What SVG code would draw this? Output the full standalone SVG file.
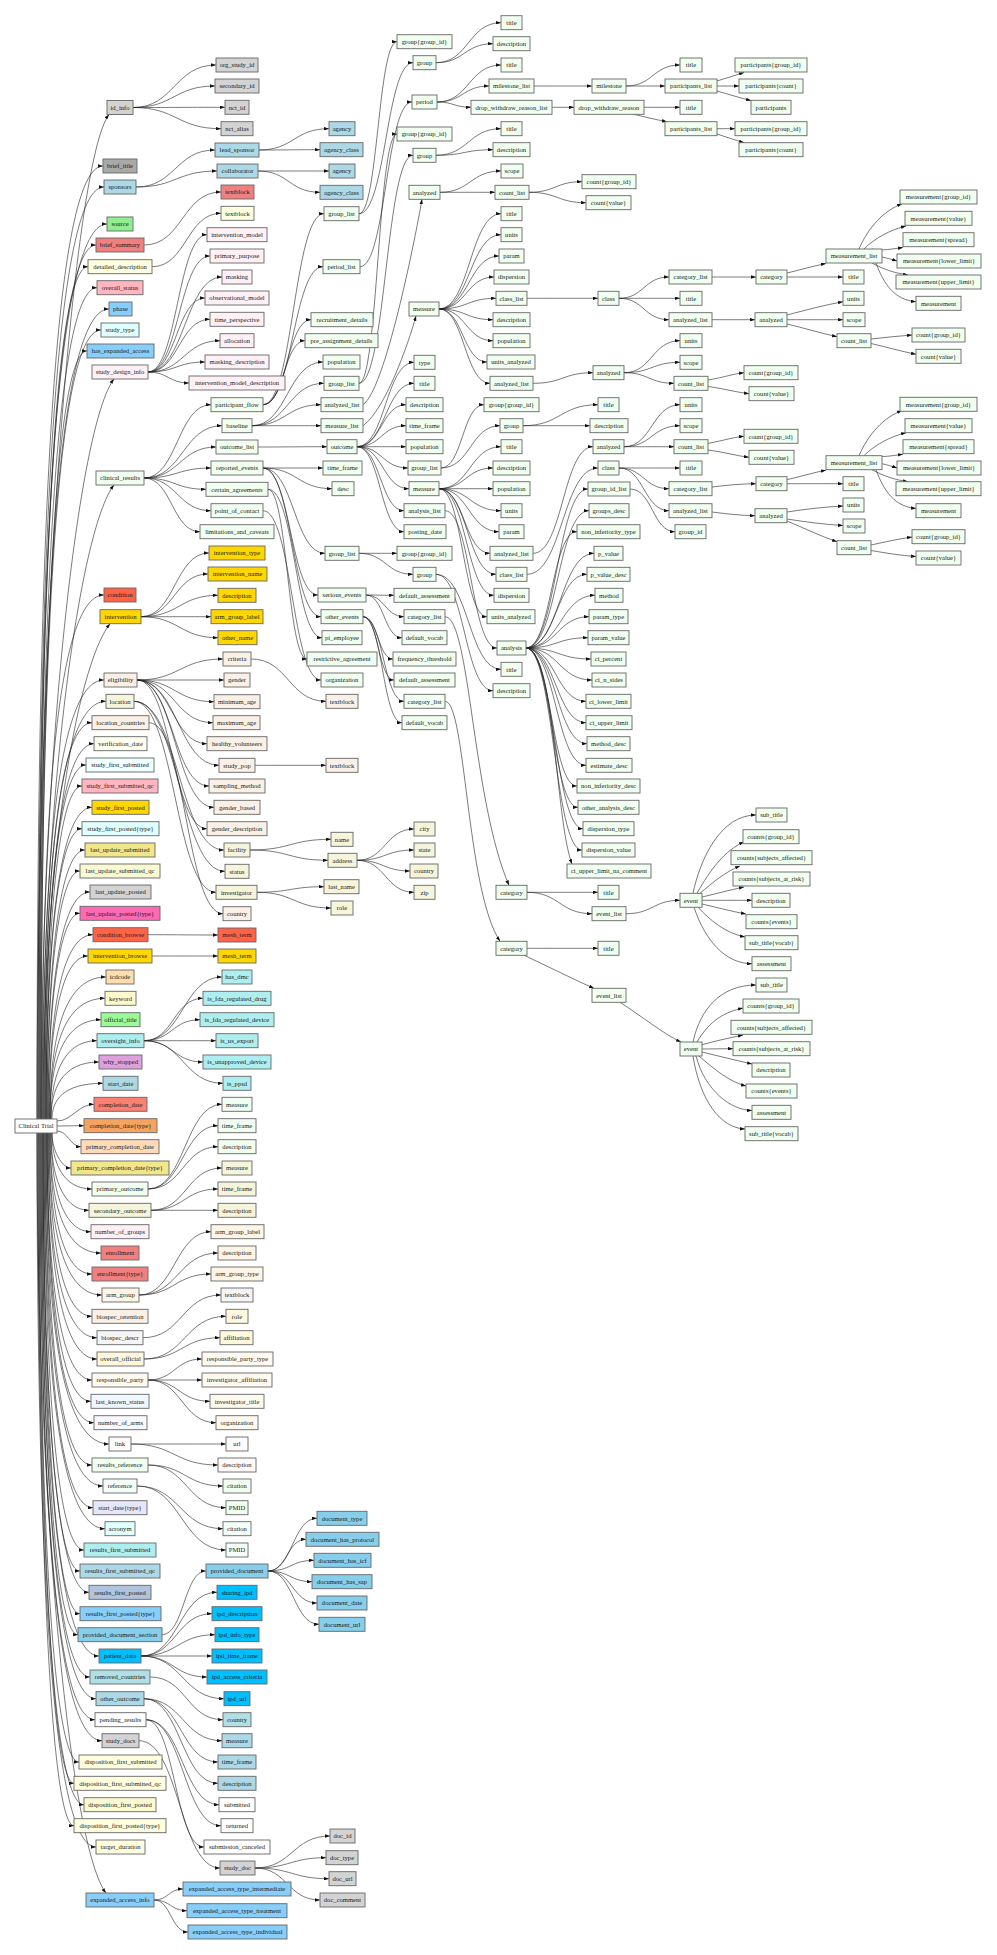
<svg xmlns="http://www.w3.org/2000/svg" width="997" height="1955" viewBox="0 0 997 1955">
<defs>
<marker id="ah" viewBox="0 0 10 7" refX="10" refY="3.5" markerWidth="5" markerHeight="3.5" markerUnits="userSpaceOnUse" orient="auto"><path d="M0,0L10,3.5L0,7z" fill="#111"/></marker>
</defs>
<style>
.n rect{stroke:#666;stroke-width:0.9}
.n text{font-family:"Liberation Serif","Times New Roman",serif;font-size:6.6px;fill:#1a1a1a;text-anchor:middle}
#edges path{fill:none;stroke:#222;stroke-width:0.6;marker-end:url(#ah)}
.lg{fill:#d3d3d3}.dg{fill:#a9a9a9}.lb{fill:#add8e6}.lgr{fill:#90ee90}.lc{fill:#f08080}.ly{fill:#ffffe0}
.lp{fill:#ffb6c1}.lsb{fill:#87cefa}.lcy{fill:#e0ffff}.lbl{fill:#fff0f5}.hd{fill:#f0fff0}.tm{fill:#ff6347}
.gd{fill:#ffd700}.ln{fill:#faf0e6}.bg{fill:#f5f5dc}.iv{fill:#fffff0}.az{fill:#f0ffff}.kh{fill:#f0e68c}
.lgy{fill:#fafad2}.hp{fill:#ff69b4}.nw{fill:#ffdead}.lch{fill:#fffacd}.pg{fill:#98fb98}.pt{fill:#afeeee}
.pl{fill:#dda0dd}.sa{fill:#fa8072}.sb{fill:#f4a460}.pp{fill:#ffdab9}.ol{fill:#fdf5e6}.ws{fill:#f5f5f5}
.cs{fill:#fff8dc}.fw{fill:#fffaf0}.ab{fill:#f0f8ff}.gw{fill:#f8f8ff}.sn{fill:#fffafa}.mc{fill:#f5fffa}
.lv{fill:#e6e6fa}.ls{fill:#b0c4de}.sk{fill:#87ceeb}.ds{fill:#00bfff}.pb{fill:#b0e0e6}.wh{fill:#ffffff}
</style>
<rect width="997" height="1955" fill="#fff"/>
<g id="edges">
<path d="M37 1119C37 617 74 160 109 114.5"/>
<path d="M37 1119C37 642.5 47 166 103 166"/>
<path d="M38 1119C38 653 48 187 104 187"/>
<path d="M38 1119C38 671.5 48 224 107 224"/>
<path d="M39 1119C39 682 49 245 96 245"/>
<path d="M39 1119C39 692.9 49 266.7 88 266.7"/>
<path d="M40 1119C40 703.4 50 287.7 97 287.7"/>
<path d="M40 1119C40 714 50 309 109 309"/>
<path d="M41 1119C41 724.5 51 330 101 330"/>
<path d="M41 1119C41 735 51 351 87 351"/>
<path d="M41 1119C41 749 79 424 114 379"/>
<path d="M42 1119C42 802 79 530 114 485"/>
<path d="M42 1119C42 857 52 595 104 595"/>
<path d="M43 1119C43 871 75 668.7 110 623.7"/>
<path d="M43 1119C43 899.5 53 680 104 680"/>
<path d="M44 1119C44 910.2 54 701.3 106 701.3"/>
<path d="M44 1119C44 920.9 54 722.7 92 722.7"/>
<path d="M45 1119C45 931.4 55 743.7 94 743.7"/>
<path d="M45 1119C45 942 55 765 86 765"/>
<path d="M46 1119C46 952.5 56 786 82 786"/>
<path d="M46 1119C46 963.2 56 807.3 92 807.3"/>
<path d="M46 1119C46 973.9 56 828.7 82 828.7"/>
<path d="M47 1119C47 984.5 57 850 85 850"/>
<path d="M47 1119C47 995 57 871 80 871"/>
<path d="M48 1119C48 1005.5 58 892 90 892"/>
<path d="M48 1119C48 1016.2 58 913.3 80 913.3"/>
<path d="M49 1119C49 1026.9 59 934.7 93 934.7"/>
<path d="M49 1119C49 1037.5 59 956 88 956"/>
<path d="M50 1119C50 1048 60 977 106 977"/>
<path d="M50 1119C50 1058.7 60 998.3 105 998.3"/>
<path d="M50 1119C50 1069.4 60 1019.7 101 1019.7"/>
<path d="M51 1119C51 1079.9 61 1040.7 97 1040.7"/>
<path d="M51 1119C51 1090.5 61 1062 99 1062"/>
<path d="M52 1119C52 1101.2 62 1083.3 103 1083.3"/>
<path d="M57 1121C72 1121 78 1104.3 94 1104.3"/>
<path d="M57 1126C68 1126 72 1125.7 84 1125.7"/>
<path d="M57 1131C68 1131 70 1146.7 81 1146.7"/>
<path d="M52 1133C52 1150.5 62 1168 71 1168"/>
<path d="M52 1133C52 1161 62 1189 92 1189"/>
<path d="M51 1133C51 1171.7 61 1210.3 89 1210.3"/>
<path d="M51 1133C51 1182.4 61 1231.7 91 1231.7"/>
<path d="M50 1133C50 1193 60 1253 101 1253"/>
<path d="M50 1133C50 1203.5 60 1274 92 1274"/>
<path d="M49 1133C49 1214 59 1295 102 1295"/>
<path d="M49 1133C49 1224.7 59 1316.3 92 1316.3"/>
<path d="M48 1133C48 1235.4 58 1337.7 97 1337.7"/>
<path d="M48 1133C48 1246 58 1359 97 1359"/>
<path d="M47 1133C47 1256.5 57 1380 92 1380"/>
<path d="M47 1133C47 1267.2 57 1401.3 91 1401.3"/>
<path d="M47 1133C47 1277.9 57 1422.7 94 1422.7"/>
<path d="M46 1133C46 1288.5 56 1444 109 1444"/>
<path d="M46 1133C46 1299 56 1465 92 1465"/>
<path d="M45 1133C45 1309.5 55 1486 103 1486"/>
<path d="M45 1133C45 1320.4 55 1507.7 93 1507.7"/>
<path d="M44 1133C44 1330.9 54 1528.7 105 1528.7"/>
<path d="M44 1133C44 1341.5 54 1550 84 1550"/>
<path d="M43 1133C43 1352 53 1571 80 1571"/>
<path d="M43 1133C43 1362.7 53 1592.3 89 1592.3"/>
<path d="M43 1133C43 1373.4 53 1613.7 80 1613.7"/>
<path d="M42 1133C42 1383.9 52 1634.7 78 1634.7"/>
<path d="M42 1133C42 1394.5 52 1656 99 1656"/>
<path d="M41 1133C41 1405 51 1677 90 1677"/>
<path d="M41 1133C41 1415.9 51 1698.7 96 1698.7"/>
<path d="M40 1133C40 1426.4 50 1719.7 95 1719.7"/>
<path d="M40 1133C40 1436.9 50 1740.7 102 1740.7"/>
<path d="M39 1133C39 1447.5 49 1762 79 1762"/>
<path d="M39 1133C39 1458.2 49 1783.3 74 1783.3"/>
<path d="M38 1133C38 1468.9 48 1804.7 84 1804.7"/>
<path d="M38 1133C38 1479.4 48 1825.7 74 1825.7"/>
<path d="M37 1133C37 1490 47 1847 96 1847"/>
<path d="M37 1133C37 1513 71 1848 106 1893"/>
<path d="M133 107.5C174.5 107.5 174.5 65 216 65"/>
<path d="M133 107.5C174 107.5 174 86 215 86"/>
<path d="M133 107.5C179 107.5 179 107.3 225 107.3"/>
<path d="M133 107.5C177 107.5 177 128.7 221 128.7"/>
<path d="M136 187C175.5 187 175.5 150 215 150"/>
<path d="M136 187C176.5 187 176.5 171 217 171"/>
<path d="M144 245C182.5 245 182.5 192 221 192"/>
<path d="M152 266.7C186.5 266.7 186.5 213.3 221 213.3"/>
<path d="M148 372C177.5 372 177.5 234.7 207 234.7"/>
<path d="M148 372C179 372 179 256 210 256"/>
<path d="M148 372C185 372 185 277 222 277"/>
<path d="M148 372C176.5 372 176.5 298 205 298"/>
<path d="M148 372C179 372 179 319.3 210 319.3"/>
<path d="M148 372C184 372 184 340.7 220 340.7"/>
<path d="M148 372C176.5 372 176.5 362 205 362"/>
<path d="M148 372C168.5 372 168.5 383 189 383"/>
<path d="M144 478C177.5 478 177.5 404.7 211 404.7"/>
<path d="M144 478C183 478 183 425.7 222 425.7"/>
<path d="M144 478C180 478 180 447 216 447"/>
<path d="M144 478C177.5 478 177.5 468 211 468"/>
<path d="M144 478C175 478 175 489.3 206 489.3"/>
<path d="M144 478C177.5 478 177.5 510.7 211 510.7"/>
<path d="M144 478C172 478 172 531.7 200 531.7"/>
<path d="M141 616.7C175 616.7 175 553 209 553"/>
<path d="M141 616.7C174.5 616.7 174.5 574 208 574"/>
<path d="M141 616.7C179.5 616.7 179.5 595.3 218 595.3"/>
<path d="M141 616.7C176 616.7 176 616.7 211 616.7"/>
<path d="M141 616.7C179.5 616.7 179.5 637.7 218 637.7"/>
<path d="M137 680C180 680 180 659 223 659"/>
<path d="M137 680C180.5 680 180.5 680 224 680"/>
<path d="M137 680C175.5 680 175.5 701.7 214 701.7"/>
<path d="M137 680C175 680 175 722.7 213 722.7"/>
<path d="M137 680C172 680 172 743.7 207 743.7"/>
<path d="M137 680C178 680 178 765.3 219 765.3"/>
<path d="M137 680C173 680 173 786 209 786"/>
<path d="M137 680C175.5 680 175.5 807.3 214 807.3"/>
<path d="M137 680C172 680 172 828.7 207 828.7"/>
<path d="M134 701.3C179 701.3 179 850 224 850"/>
<path d="M134 701.3C179.5 701.3 179.5 871.3 225 871.3"/>
<path d="M134 701.3C175 701.3 175 892.3 216 892.3"/>
<path d="M149 722.7C186 722.7 186 913.7 223 913.7"/>
<path d="M148 934.7C183 934.7 183 935 218 935"/>
<path d="M152 956C185 956 185 956 218 956"/>
<path d="M144 1040.7C183 1040.7 183 977 222 977"/>
<path d="M144 1040.7C173.5 1040.7 173.5 998.3 203 998.3"/>
<path d="M144 1040.7C172 1040.7 172 1019.7 200 1019.7"/>
<path d="M144 1040.7C180 1040.7 180 1040.7 216 1040.7"/>
<path d="M144 1040.7C173.5 1040.7 173.5 1062 203 1062"/>
<path d="M144 1040.7C183.5 1040.7 183.5 1083.3 223 1083.3"/>
<path d="M148 1189C185 1189 185 1104.3 222 1104.3"/>
<path d="M148 1189C183 1189 183 1125.7 218 1125.7"/>
<path d="M148 1189C183 1189 183 1146.7 218 1146.7"/>
<path d="M151 1210.3C186.5 1210.3 186.5 1168 222 1168"/>
<path d="M151 1210.3C184.5 1210.3 184.5 1189 218 1189"/>
<path d="M151 1210.3C184.5 1210.3 184.5 1210.3 218 1210.3"/>
<path d="M139 1295C175 1295 175 1231.7 211 1231.7"/>
<path d="M139 1295C178.5 1295 178.5 1253 218 1253"/>
<path d="M139 1295C175 1295 175 1274 211 1274"/>
<path d="M143 1337.7C182 1337.7 182 1295 221 1295"/>
<path d="M144 1359C185 1359 185 1316.3 226 1316.3"/>
<path d="M144 1359C182 1359 182 1337.7 220 1337.7"/>
<path d="M148 1380C175 1380 175 1359 202 1359"/>
<path d="M148 1380C175 1380 175 1380 202 1380"/>
<path d="M148 1380C179 1380 179 1401.3 210 1401.3"/>
<path d="M148 1380C182 1380 182 1422.7 216 1422.7"/>
<path d="M131 1444C178.5 1444 178.5 1444 226 1444"/>
<path d="M131 1444C174.5 1444 174.5 1465 218 1465"/>
<path d="M148 1465C185.5 1465 185.5 1486 223 1486"/>
<path d="M148 1465C187 1465 187 1507.7 226 1507.7"/>
<path d="M137 1486C180 1486 180 1528.7 223 1528.7"/>
<path d="M137 1486C181.5 1486 181.5 1550 226 1550"/>
<path d="M162 1634.7C184 1634.7 184 1571 206 1571"/>
<path d="M141 1656C179 1656 179 1592.3 217 1592.3"/>
<path d="M141 1656C176.5 1656 176.5 1613.7 212 1613.7"/>
<path d="M141 1656C178 1656 178 1634.7 215 1634.7"/>
<path d="M141 1656C176.5 1656 176.5 1656 212 1656"/>
<path d="M141 1656C174 1656 174 1677 207 1677"/>
<path d="M141 1656C182.5 1656 182.5 1698.7 224 1698.7"/>
<path d="M150 1677C186.5 1677 186.5 1719.7 223 1719.7"/>
<path d="M144 1698.7C183 1698.7 183 1740.7 222 1740.7"/>
<path d="M144 1698.7C181 1698.7 181 1762 218 1762"/>
<path d="M144 1698.7C181 1698.7 181 1783.3 218 1783.3"/>
<path d="M146 1719.7C182.5 1719.7 182.5 1804.7 219 1804.7"/>
<path d="M146 1719.7C183.5 1719.7 183.5 1825.7 221 1825.7"/>
<path d="M146 1719.7C175 1719.7 175 1847 204 1847"/>
<path d="M139 1740.7C179.5 1740.7 179.5 1868 220 1868"/>
<path d="M154 1900C168.5 1900 168.5 1889 183 1889"/>
<path d="M154 1900C170.5 1900 170.5 1910.7 187 1910.7"/>
<path d="M154 1900C171 1900 171 1932 188 1932"/>
<path d="M259 150C294 150 294 128.7 329 128.7"/>
<path d="M259 150C289.5 150 289.5 149.7 320 149.7"/>
<path d="M258 171C293.5 171 293.5 171 329 171"/>
<path d="M258 171C289 171 289 192.3 320 192.3"/>
<path d="M263 404.7C293.5 404.7 293.5 213.7 324 213.7"/>
<path d="M263 404.7C293 404.7 293 266.7 323 266.7"/>
<path d="M263 404.7C287 404.7 287 319.7 311 319.7"/>
<path d="M263 404.7C284 404.7 284 340.7 305 340.7"/>
<path d="M252 425.7C287.5 425.7 287.5 362 323 362"/>
<path d="M252 425.7C288 425.7 288 383.3 324 383.3"/>
<path d="M252 425.7C286.5 425.7 286.5 404.7 321 404.7"/>
<path d="M252 425.7C286.5 425.7 286.5 425.7 321 425.7"/>
<path d="M258 447C292.5 447 292.5 446.7 327 446.7"/>
<path d="M263 468C293 468 293 468 323 468"/>
<path d="M263 468C297.5 468 297.5 488.7 332 488.7"/>
<path d="M263 468C294 468 294 553.3 325 553.3"/>
<path d="M263 468C290.5 468 290.5 595 318 595"/>
<path d="M263 468C292 468 292 616.7 321 616.7"/>
<path d="M268 489.3C295 489.3 295 637.7 322 637.7"/>
<path d="M268 489.3C287.5 489.3 287.5 659 307 659"/>
<path d="M263 510.7C292 510.7 292 680 321 680"/>
<path d="M251 659C288.5 659 288.5 701.3 326 701.3"/>
<path d="M255 765.3C290.5 765.3 290.5 765.3 326 765.3"/>
<path d="M250 850C290.5 850 290.5 839.3 331 839.3"/>
<path d="M250 850C289 850 289 860.3 328 860.3"/>
<path d="M257 892.3C290.5 892.3 290.5 886.7 324 886.7"/>
<path d="M257 892.3C294 892.3 294 908 331 908"/>
<path d="M268 1571C292.5 1571 292.5 1518.3 317 1518.3"/>
<path d="M268 1571C287 1571 287 1539.3 306 1539.3"/>
<path d="M268 1571C291 1571 291 1560.3 314 1560.3"/>
<path d="M268 1571C290 1571 290 1581.7 312 1581.7"/>
<path d="M268 1571C292.5 1571 292.5 1603 317 1603"/>
<path d="M268 1571C293.5 1571 293.5 1624.3 319 1624.3"/>
<path d="M255 1868C292.5 1868 292.5 1836 330 1836"/>
<path d="M255 1868C290.5 1868 290.5 1857.7 326 1857.7"/>
<path d="M255 1868C292 1868 292 1878.7 329 1878.7"/>
<path d="M255 1868C287.5 1868 287.5 1900 320 1900"/>
<path d="M359 213.7C378 213.7 378 41.7 397 41.7"/>
<path d="M359 213.7C386 213.7 386 62.7 413 62.7"/>
<path d="M360 266.7C386 266.7 386 102 412 102"/>
<path d="M359 383.3C378 383.3 378 134 397 134"/>
<path d="M359 383.3C386 383.3 386 155.3 413 155.3"/>
<path d="M363 404.7C385 390 415 240 422 199.3"/>
<path d="M363 425.7C385 410 408 345 416 316"/>
<path d="M357 446.7C385.5 446.7 385.5 362.3 414 362.3"/>
<path d="M357 446.7C385.5 446.7 385.5 383.3 414 383.3"/>
<path d="M357 446.7C381.5 446.7 381.5 404.7 406 404.7"/>
<path d="M357 446.7C381.5 446.7 381.5 425.7 406 425.7"/>
<path d="M357 446.7C381.5 446.7 381.5 446.7 406 446.7"/>
<path d="M357 446.7C382.5 446.7 382.5 468 408 468"/>
<path d="M357 446.7C383 446.7 383 488.7 409 488.7"/>
<path d="M357 446.7C380.5 446.7 380.5 510.7 404 510.7"/>
<path d="M357 446.7C380.5 446.7 380.5 531.7 404 531.7"/>
<path d="M359 553.3C378 553.3 378 553.3 397 553.3"/>
<path d="M359 553.3C386 553.3 386 574.3 413 574.3"/>
<path d="M366 595C380 595 380 595.3 394 595.3"/>
<path d="M366 595C385 595 385 616.7 404 616.7"/>
<path d="M366 595C384 595 384 637.7 402 637.7"/>
<path d="M363 616.7C378 616.7 378 659 393 659"/>
<path d="M363 616.7C378.5 616.7 378.5 680 394 680"/>
<path d="M363 616.7C383.5 616.7 383.5 701.3 404 701.3"/>
<path d="M363 616.7C382.5 616.7 382.5 722.7 402 722.7"/>
<path d="M357 860.3C385.5 860.3 385.5 829 414 829"/>
<path d="M357 860.3C385.5 860.3 385.5 850 414 850"/>
<path d="M357 860.3C383.5 860.3 383.5 871 410 871"/>
<path d="M357 860.3C385.5 860.3 385.5 892.3 414 892.3"/>
<path d="M436 62.7C468.5 62.7 468.5 22.7 501 22.7"/>
<path d="M436 62.7C464.5 62.7 464.5 43.7 493 43.7"/>
<path d="M437 102C469 102 469 65 501 65"/>
<path d="M437 102C463 102 463 86 489 86"/>
<path d="M437 102C454 102 454 107.3 471 107.3"/>
<path d="M436 155.3C468.5 155.3 468.5 128.7 501 128.7"/>
<path d="M436 155.3C464.5 155.3 464.5 149.7 493 149.7"/>
<path d="M440 192.3C470.5 192.3 470.5 171 501 171"/>
<path d="M440 192.3C467.5 192.3 467.5 192.3 495 192.3"/>
<path d="M439 309C470 309 470 213.7 501 213.7"/>
<path d="M439 309C470 309 470 234.7 501 234.7"/>
<path d="M439 309C469 309 469 256 499 256"/>
<path d="M439 309C466.5 309 466.5 277 494 277"/>
<path d="M439 309C467.5 309 467.5 298.3 496 298.3"/>
<path d="M439 309C466 309 466 319.7 493 319.7"/>
<path d="M439 309C466 309 466 340.7 493 340.7"/>
<path d="M439 309C463 309 463 362 487 362"/>
<path d="M439 309C464.5 309 464.5 383.3 490 383.3"/>
<path d="M441 468C462.5 468 462.5 404.7 484 404.7"/>
<path d="M441 468C470.5 468 470.5 425.7 500 425.7"/>
<path d="M439 488.7C470 488.7 470 446.7 501 446.7"/>
<path d="M439 488.7C466 488.7 466 468 493 468"/>
<path d="M439 488.7C466 488.7 466 488.7 493 488.7"/>
<path d="M439 488.7C470 488.7 470 510.7 501 510.7"/>
<path d="M439 488.7C469 488.7 469 531.7 499 531.7"/>
<path d="M439 488.7C464.5 488.7 464.5 553.3 490 553.3"/>
<path d="M439 488.7C467.5 488.7 467.5 574.3 496 574.3"/>
<path d="M439 488.7C466.5 488.7 466.5 595.3 494 595.3"/>
<path d="M439 488.7C463 488.7 463 616.7 487 616.7"/>
<path d="M445 510.7C471 510.7 471 648 497 648"/>
<path d="M436 574.3C468.5 574.3 468.5 669.3 501 669.3"/>
<path d="M436 574.3C464.5 574.3 464.5 690.7 493 690.7"/>
<path d="M445 616.7C470 616.7 472 800 509 885.3"/>
<path d="M445 701.3C466 701.3 466 890 500 941.3"/>
<path d="M534 86C563 86 563 86 592 86"/>
<path d="M552 107.3C563 107.3 563 107.3 574 107.3"/>
<path d="M529 192.3C555.5 192.3 555.5 181.7 582 181.7"/>
<path d="M529 192.3C557.5 192.3 557.5 202.7 586 202.7"/>
<path d="M527 298.3C562.5 298.3 562.5 298.3 598 298.3"/>
<path d="M533 383.3C563 383.3 563 372.7 593 372.7"/>
<path d="M523 425.7C560.5 425.7 560.5 404.7 598 404.7"/>
<path d="M523 425.7C556.5 425.7 556.5 425.7 590 425.7"/>
<path d="M533 553.3C563 553.3 563 446.7 593 446.7"/>
<path d="M527 574.3C562.5 574.3 562.5 468 598 468"/>
<path d="M526 648C557 648 557 489 588 489"/>
<path d="M526 648C557.5 648 557.5 510.7 589 510.7"/>
<path d="M526 648C551.5 648 551.5 531.7 577 531.7"/>
<path d="M526 648C560 648 560 553.3 594 553.3"/>
<path d="M526 648C556.5 648 556.5 574.3 587 574.3"/>
<path d="M526 648C560.5 648 560.5 595.3 595 595.3"/>
<path d="M526 648C557.5 648 557.5 616.7 589 616.7"/>
<path d="M526 648C557 648 557 637.7 588 637.7"/>
<path d="M526 648C558.5 648 558.5 659 591 659"/>
<path d="M526 648C559 648 559 680 592 680"/>
<path d="M526 648C556 648 556 701.3 586 701.3"/>
<path d="M526 648C556 648 556 722.7 586 722.7"/>
<path d="M526 648C556.5 648 556.5 743.7 587 743.7"/>
<path d="M526 648C556 648 556 765.3 586 765.3"/>
<path d="M526 648C551.5 648 551.5 786 577 786"/>
<path d="M526 648C552 648 552 807.3 578 807.3"/>
<path d="M526 648C554.5 648 554.5 828.7 583 828.7"/>
<path d="M526 648C554 648 554 850 582 850"/>
<path d="M526 648C555 648 555 820 572 864"/>
<path d="M527 892.3C562.5 892.3 562.5 892.3 598 892.3"/>
<path d="M527 892.3C559.5 892.3 559.5 913.7 592 913.7"/>
<path d="M527 948.3C562.5 948.3 562.5 948.3 598 948.3"/>
<path d="M524 955.3C545 965 575 980 594 988.3"/>
<path d="M626 86C653 86 653 65 680 65"/>
<path d="M626 86C645.5 86 645.5 86 665 86"/>
<path d="M644 107.3C662 107.3 662 107.3 680 107.3"/>
<path d="M634 114.3C645 117 655 119.5 667 121.7"/>
<path d="M619 298.3C644 298.3 644 277 669 277"/>
<path d="M619 298.3C649.5 298.3 649.5 298.3 680 298.3"/>
<path d="M619 298.3C644 298.3 644 319.7 669 319.7"/>
<path d="M624 372.7C652 372.7 652 340.7 680 340.7"/>
<path d="M624 372.7C652 372.7 652 362.3 680 362.3"/>
<path d="M624 372.7C649 372.7 649 383.3 674 383.3"/>
<path d="M624 446.7C652 446.7 652 404.7 680 404.7"/>
<path d="M624 446.7C652 446.7 652 425.7 680 425.7"/>
<path d="M624 446.7C649 446.7 649 446.7 674 446.7"/>
<path d="M619 468C649.5 468 649.5 468 680 468"/>
<path d="M619 468C644 468 644 488.7 669 488.7"/>
<path d="M619 468C644 468 644 510.7 669 510.7"/>
<path d="M630 489C652.5 489 652.5 531.7 675 531.7"/>
<path d="M626 913.7C653 913.7 653 900.3 680 900.3"/>
<path d="M620 1002.3C640 1015 665 1035 681 1042"/>
<path d="M717 81C726 78 735 75.5 744 72.5"/>
<path d="M717 86C726 86 730 86 739 86"/>
<path d="M717 91C728 94 740 98 751 100.5"/>
<path d="M717 128.7C726 128.7 726 128.7 735 128.7"/>
<path d="M717 134C726 137 735 140 744 142.7"/>
<path d="M712 277C734 277 734 277 756 277"/>
<path d="M712 319.7C733.5 319.7 733.5 319.7 755 319.7"/>
<path d="M708 380C726 377 732 374 744 372.7"/>
<path d="M708 386.5C726 389 735 392 749 393.7"/>
<path d="M708 443.4C726 440 732 437.5 744 436.3"/>
<path d="M708 450C726 452.5 735 455.5 749 457.3"/>
<path d="M712 487C728 485 740 484 756 483.7"/>
<path d="M712 512C728 514 740 515.5 755 515.7"/>
<path d="M693 893.3C700 860 720 815 756 815"/>
<path d="M697 893.3C710 870 725 850 744 842"/>
<path d="M700 893.3C712 883 725 872 740 866"/>
<path d="M702 897C715 894 730 890 744 887"/>
<path d="M702 900.3C720 900.3 735 900.3 752 900.3"/>
<path d="M702 904C715 907 730 911 746 914"/>
<path d="M698 907.3C710 920 725 933 745 937"/>
<path d="M694 907.3C705 940 725 963.7 752 963.7"/>
<path d="M693 1042C700 1010 720 985 756 985"/>
<path d="M697 1042C710 1020 725 1012 743 1008"/>
<path d="M701 1045C715 1041 729 1038 743 1035"/>
<path d="M702 1049C712 1049 722 1048.7 733 1048.7"/>
<path d="M702 1052C718 1056 735 1060 752 1064"/>
<path d="M699 1056C715 1070 730 1082 746 1086"/>
<path d="M696 1056C705 1090 730 1110 752 1110.5"/>
<path d="M693 1056C700 1100 720 1128 745 1129"/>
<path d="M787 273C800 270 813 266 826 263.5"/>
<path d="M787 277C815 277 815 277 843 277"/>
<path d="M787 315C806 310 825 305 843 301.7"/>
<path d="M787 319.7C815 319.7 815 319.7 843 319.7"/>
<path d="M787 324C804 328 820 333 837 336.7"/>
<path d="M787 479.7C800 476.7 813 472.7 826 470.2"/>
<path d="M787 483.7C815 483.7 815 483.7 843 483.7"/>
<path d="M787 512C806 509 825 507 843 506"/>
<path d="M787 519C806 522 825 524.5 843 525.5"/>
<path d="M787 521C804 528 820 536 837 541.7"/>
<path d="M859 249C868 228 884 210 902 204"/>
<path d="M864 249C875 238 890 230 906 226"/>
<path d="M872 249C882 251 892 249 903 247.5"/>
<path d="M882 257C887 258 892 259.5 897 261"/>
<path d="M872 263C885 270 895 273 908 275"/>
<path d="M876 263C884 285 895 300 916 301.7"/>
<path d="M871 339C885 337.5 898 336 912 335"/>
<path d="M871 343.5C886 347 900 351 916 354.3"/>
<path d="M859 455.7C868 434.7 884 416.7 902 410.7"/>
<path d="M864 455.7C875 444.7 890 436.7 906 432.7"/>
<path d="M872 455.7C882 457.7 892 455.7 903 454.2"/>
<path d="M882 463.7C887 464.7 892 466.2 897 468"/>
<path d="M872 469.7C885 476.7 895 479.7 908 481.7"/>
<path d="M876 469.7C884 491.7 895 506.7 916 508.4"/>
<path d="M871 545C885 542 898 539 912 537"/>
<path d="M871 550.5C886 553 900 555.5 916 556.5"/>
</g>
<g id="nodes">
<g id="clinical_trial" class="n"><rect class="wh" x="15" y="1119" width="42" height="14"/><text x="36" y="1128.3">Clinical Trial</text></g>
<g id="id_info" class="n"><rect class="lg" x="107" y="100.5" width="26" height="14"/><text x="120" y="109.8">id_info</text></g>
<g id="brief_title" class="n"><rect class="dg" x="103" y="159" width="34" height="14"/><text x="120" y="168.3">brief_title</text></g>
<g id="sponsors" class="n"><rect class="lb" x="104" y="180" width="32" height="14"/><text x="120" y="189.3">sponsors</text></g>
<g id="source" class="n"><rect class="lgr" x="107" y="217" width="26" height="14"/><text x="120" y="226.3">source</text></g>
<g id="brief_summary" class="n"><rect class="lc" x="96" y="238" width="48" height="14"/><text x="120" y="247.3">brief_summary</text></g>
<g id="detailed_description" class="n"><rect class="ly" x="88" y="259.7" width="64" height="14"/><text x="120" y="269">detailed_description</text></g>
<g id="overall_status" class="n"><rect class="lp" x="97" y="280.7" width="46" height="14"/><text x="120" y="290">overall_status</text></g>
<g id="phase" class="n"><rect class="lsb" x="109" y="302" width="23" height="14"/><text x="120.5" y="311.3">phase</text></g>
<g id="study_type" class="n"><rect class="lcy" x="101" y="323" width="38" height="14"/><text x="120" y="332.3">study_type</text></g>
<g id="has_expanded_access" class="n"><rect class="lsb" x="87" y="344" width="67" height="14"/><text x="120.5" y="353.3">has_expanded_access</text></g>
<g id="study_design_info" class="n"><rect class="lbl" x="92" y="365" width="56" height="14"/><text x="120" y="374.3">study_design_info</text></g>
<g id="clinical_results" class="n"><rect class="hd" x="96" y="471" width="48" height="14"/><text x="120" y="480.3">clinical_results</text></g>
<g id="condition" class="n"><rect class="tm" x="104" y="588" width="32" height="14"/><text x="120" y="597.3">condition</text></g>
<g id="intervention" class="n"><rect class="gd" x="100" y="609.7" width="41" height="14"/><text x="120.5" y="619">intervention</text></g>
<g id="eligibility" class="n"><rect class="ln" x="104" y="673" width="33" height="14"/><text x="120.5" y="682.3">eligibility</text></g>
<g id="location" class="n"><rect class="bg" x="106" y="694.3" width="28" height="14"/><text x="120" y="703.6">location</text></g>
<g id="location_countries" class="n"><rect class="ln" x="92" y="715.7" width="57" height="14"/><text x="120.5" y="725">location_countries</text></g>
<g id="verification_date" class="n"><rect class="iv" x="94" y="736.7" width="53" height="14"/><text x="120.5" y="746">verification_date</text></g>
<g id="study_first_submitted" class="n"><rect class="az" x="86" y="758" width="68" height="14"/><text x="120" y="767.3">study_first_submitted</text></g>
<g id="study_first_submitted_qc" class="n"><rect class="lp" x="82" y="779" width="76" height="14"/><text x="120" y="788.3">study_first_submitted_qc</text></g>
<g id="study_first_posted" class="n"><rect class="gd" x="92" y="800.3" width="57" height="14"/><text x="120.5" y="809.6">study_first_posted</text></g>
<g id="study_first_posted_type" class="n"><rect class="lcy" x="82" y="821.7" width="77" height="14"/><text x="120.5" y="831">study_first_posted{type}</text></g>
<g id="last_update_submitted" class="n"><rect class="kh" x="85" y="843" width="70" height="14"/><text x="120" y="852.3">last_update_submitted</text></g>
<g id="last_update_submitted_qc" class="n"><rect class="lgy" x="80" y="864" width="80" height="14"/><text x="120" y="873.3">last_update_submitted_qc</text></g>
<g id="last_update_posted" class="n"><rect class="lg" x="90" y="885" width="61" height="14"/><text x="120.5" y="894.3">last_update_posted</text></g>
<g id="last_update_posted_type" class="n"><rect class="hp" x="80" y="906.3" width="80" height="14"/><text x="120" y="915.6">last_update_posted{type}</text></g>
<g id="condition_browse" class="n"><rect class="tm" x="93" y="927.7" width="55" height="14"/><text x="120.5" y="937">condition_browse</text></g>
<g id="intervention_browse" class="n"><rect class="gd" x="88" y="949" width="64" height="14"/><text x="120" y="958.3">intervention_browse</text></g>
<g id="icdcode" class="n"><rect class="nw" x="106" y="970" width="28" height="14"/><text x="120" y="979.3">icdcode</text></g>
<g id="keyword" class="n"><rect class="lch" x="105" y="991.3" width="31" height="14"/><text x="120.5" y="1000.6">keyword</text></g>
<g id="official_title" class="n"><rect class="pg" x="101" y="1012.7" width="39" height="14"/><text x="120.5" y="1022">official_title</text></g>
<g id="oversight_info" class="n"><rect class="pt" x="97" y="1033.7" width="47" height="14"/><text x="120.5" y="1043">oversight_info</text></g>
<g id="why_stopped" class="n"><rect class="pl" x="99" y="1055" width="43" height="14"/><text x="120.5" y="1064.3">why_stopped</text></g>
<g id="start_date" class="n"><rect class="lb" x="103" y="1076.3" width="35" height="14"/><text x="120.5" y="1085.6">start_date</text></g>
<g id="completion_date" class="n"><rect class="sa" x="94" y="1097.3" width="53" height="14"/><text x="120.5" y="1106.6">completion_date</text></g>
<g id="completion_date_type" class="n"><rect class="sb" x="84" y="1118.7" width="73" height="14"/><text x="120.5" y="1128">completion_date{type}</text></g>
<g id="primary_completion_date" class="n"><rect class="pp" x="81" y="1139.7" width="78" height="14"/><text x="120" y="1149">primary_completion_date</text></g>
<g id="primary_completion_date_type" class="n"><rect class="kh" x="71" y="1161" width="98" height="14"/><text x="120" y="1170.3">primary_completion_date{type}</text></g>
<g id="primary_outcome" class="n"><rect class="hd" x="92" y="1182" width="56" height="14"/><text x="120" y="1191.3">primary_outcome</text></g>
<g id="secondary_outcome" class="n"><rect class="bg" x="89" y="1203.3" width="62" height="14"/><text x="120" y="1212.6">secondary_outcome</text></g>
<g id="number_of_groups" class="n"><rect class="lbl" x="91" y="1224.7" width="58" height="14"/><text x="120" y="1234">number_of_groups</text></g>
<g id="enrollment" class="n"><rect class="lc" x="101" y="1246" width="38" height="14"/><text x="120" y="1255.3">enrollment</text></g>
<g id="enrollment_type" class="n"><rect class="lc" x="92" y="1267" width="56" height="14"/><text x="120" y="1276.3">enrollment{type}</text></g>
<g id="arm_group" class="n"><rect class="ol" x="102" y="1288" width="37" height="14"/><text x="120.5" y="1297.3">arm_group</text></g>
<g id="biospec_retention" class="n"><rect class="ln" x="92" y="1309.3" width="56" height="14"/><text x="120" y="1318.6">biospec_retention</text></g>
<g id="biospec_descr" class="n"><rect class="ws" x="97" y="1330.7" width="46" height="14"/><text x="120" y="1340">biospec_descr</text></g>
<g id="overall_official" class="n"><rect class="cs" x="97" y="1352" width="47" height="14"/><text x="120.5" y="1361.3">overall_official</text></g>
<g id="responsible_party" class="n"><rect class="fw" x="92" y="1373" width="56" height="14"/><text x="120" y="1382.3">responsible_party</text></g>
<g id="last_known_status" class="n"><rect class="ab" x="91" y="1394.3" width="58" height="14"/><text x="120" y="1403.6">last_known_status</text></g>
<g id="number_of_arms" class="n"><rect class="gw" x="94" y="1415.7" width="53" height="14"/><text x="120.5" y="1425">number_of_arms</text></g>
<g id="link" class="n"><rect class="sn" x="109" y="1437" width="22" height="14"/><text x="120" y="1446.3">link</text></g>
<g id="results_reference" class="n"><rect class="hd" x="92" y="1458" width="56" height="14"/><text x="120" y="1467.3">results_reference</text></g>
<g id="reference" class="n"><rect class="mc" x="103" y="1479" width="34" height="14"/><text x="120" y="1488.3">reference</text></g>
<g id="start_date_type" class="n"><rect class="lv" x="93" y="1500.7" width="54" height="14"/><text x="120" y="1510">start_date{type}</text></g>
<g id="acronym" class="n"><rect class="lcy" x="105" y="1521.7" width="30" height="14"/><text x="120" y="1531">acronym</text></g>
<g id="results_first_submitted" class="n"><rect class="pt" x="84" y="1543" width="72" height="14"/><text x="120" y="1552.3">results_first_submitted</text></g>
<g id="results_first_submitted_qc" class="n"><rect class="lb" x="80" y="1564" width="80" height="14"/><text x="120" y="1573.3">results_first_submitted_qc</text></g>
<g id="results_first_posted" class="n"><rect class="ls" x="89" y="1585.3" width="62" height="14"/><text x="120" y="1594.6">results_first_posted</text></g>
<g id="results_first_posted_type" class="n"><rect class="lsb" x="80" y="1606.7" width="81" height="14"/><text x="120.5" y="1616">results_first_posted{type}</text></g>
<g id="provided_document_section" class="n"><rect class="sk" x="78" y="1627.7" width="84" height="14"/><text x="120" y="1637">provided_document_section</text></g>
<g id="patient_data" class="n"><rect class="ds" x="99" y="1649" width="42" height="14"/><text x="120" y="1658.3">patient_data</text></g>
<g id="removed_countries" class="n"><rect class="pb" x="90" y="1670" width="60" height="14"/><text x="120" y="1679.3">removed_countries</text></g>
<g id="other_outcome" class="n"><rect class="lb" x="96" y="1691.7" width="48" height="14"/><text x="120" y="1701">other_outcome</text></g>
<g id="pending_results" class="n"><rect class="wh" x="95" y="1712.7" width="51" height="14"/><text x="120.5" y="1722">pending_results</text></g>
<g id="study_docs" class="n"><rect class="lg" x="102" y="1733.7" width="37" height="14"/><text x="120.5" y="1743">study_docs</text></g>
<g id="disposition_first_submitted" class="n"><rect class="ly" x="79" y="1755" width="83" height="14"/><text x="120.5" y="1764.3">disposition_first_submitted</text></g>
<g id="disposition_first_submitted_qc" class="n"><rect class="ly" x="74" y="1776.3" width="92" height="14"/><text x="120" y="1785.6">disposition_first_submitted_qc</text></g>
<g id="disposition_first_posted" class="n"><rect class="lgy" x="84" y="1797.7" width="72" height="14"/><text x="120" y="1807">disposition_first_posted</text></g>
<g id="disposition_first_posted_type" class="n"><rect class="ly" x="74" y="1818.7" width="92" height="14"/><text x="120" y="1828">disposition_first_posted{type}</text></g>
<g id="target_duration" class="n"><rect class="ly" x="96" y="1840" width="49" height="14"/><text x="120.5" y="1849.3">target_duration</text></g>
<g id="expanded_access_info" class="n"><rect class="lsb" x="86" y="1893" width="68" height="14"/><text x="120" y="1902.3">expanded_access_info</text></g>

<g id="org_study_id" class="n"><rect class="lg" x="216" y="58" width="42" height="14"/><text x="237" y="67.3">org_study_id</text></g>
<g id="secondary_id" class="n"><rect class="lg" x="215" y="79" width="44" height="14"/><text x="237" y="88.3">secondary_id</text></g>
<g id="nct_id" class="n"><rect class="lg" x="225" y="100.3" width="24" height="14"/><text x="237" y="109.6">nct_id</text></g>
<g id="nct_alias" class="n"><rect class="lg" x="221" y="121.7" width="32" height="14"/><text x="237" y="131">nct_alias</text></g>
<g id="lead_sponsor" class="n"><rect class="lb" x="215" y="143" width="44" height="14"/><text x="237" y="152.3">lead_sponsor</text></g>
<g id="collaborator" class="n"><rect class="lb" x="217" y="164" width="41" height="14"/><text x="237.5" y="173.3">collaborator</text></g>
<g id="textblock_1" class="n"><rect class="lc" x="221" y="185" width="33" height="14"/><text x="237.5" y="194.3">textblock</text></g>
<g id="textblock_2" class="n"><rect class="ly" x="221" y="206.3" width="33" height="14"/><text x="237.5" y="215.6">textblock</text></g>
<g id="intervention_model" class="n"><rect class="lbl" x="207" y="227.7" width="60" height="14"/><text x="237" y="237">intervention_model</text></g>
<g id="primary_purpose" class="n"><rect class="lbl" x="210" y="249" width="54" height="14"/><text x="237" y="258.3">primary_purpose</text></g>
<g id="masking" class="n"><rect class="lbl" x="222" y="270" width="30" height="14"/><text x="237" y="279.3">masking</text></g>
<g id="observational_model" class="n"><rect class="lbl" x="205" y="291" width="64" height="14"/><text x="237" y="300.3">observational_model</text></g>
<g id="time_perspective" class="n"><rect class="lbl" x="210" y="312.3" width="54" height="14"/><text x="237" y="321.6">time_perspective</text></g>
<g id="allocation" class="n"><rect class="lbl" x="220" y="333.7" width="34" height="14"/><text x="237" y="343">allocation</text></g>
<g id="masking_description" class="n"><rect class="lbl" x="205" y="355" width="64" height="14"/><text x="237" y="364.3">masking_description</text></g>
<g id="intervention_model_description" class="n"><rect class="lbl" x="189" y="376" width="96" height="14"/><text x="237" y="385.3">intervention_model_description</text></g>
<g id="participant_flow" class="n"><rect class="hd" x="211" y="397.7" width="52" height="14"/><text x="237" y="407">participant_flow</text></g>
<g id="baseline" class="n"><rect class="hd" x="222" y="418.7" width="30" height="14"/><text x="237" y="428">baseline</text></g>
<g id="outcome_list" class="n"><rect class="hd" x="216" y="440" width="42" height="14"/><text x="237" y="449.3">outcome_list</text></g>
<g id="reported_events" class="n"><rect class="hd" x="211" y="461" width="52" height="14"/><text x="237" y="470.3">reported_events</text></g>
<g id="certain_agreements" class="n"><rect class="hd" x="206" y="482.3" width="62" height="14"/><text x="237" y="491.6">certain_agreements</text></g>
<g id="point_of_contact" class="n"><rect class="hd" x="211" y="503.7" width="52" height="14"/><text x="237" y="513">point_of_contact</text></g>
<g id="limitations_and_caveats" class="n"><rect class="hd" x="200" y="524.7" width="74" height="14"/><text x="237" y="534">limitations_and_caveats</text></g>
<g id="intervention_type" class="n"><rect class="gd" x="209" y="546" width="56" height="14"/><text x="237" y="555.3">intervention_type</text></g>
<g id="intervention_name" class="n"><rect class="gd" x="208" y="567" width="59" height="14"/><text x="237.5" y="576.3">intervention_name</text></g>
<g id="description_1" class="n"><rect class="gd" x="218" y="588.3" width="38" height="14"/><text x="237" y="597.6">description</text></g>
<g id="arm_group_label_1" class="n"><rect class="gd" x="211" y="609.7" width="52" height="14"/><text x="237" y="619">arm_group_label</text></g>
<g id="other_name" class="n"><rect class="gd" x="218" y="630.7" width="39" height="14"/><text x="237.5" y="640">other_name</text></g>
<g id="criteria" class="n"><rect class="ln" x="223" y="652" width="28" height="14"/><text x="237" y="661.3">criteria</text></g>
<g id="gender" class="n"><rect class="ln" x="224" y="673" width="26" height="14"/><text x="237" y="682.3">gender</text></g>
<g id="minimum_age" class="n"><rect class="ln" x="214" y="694.7" width="46" height="14"/><text x="237" y="704">minimum_age</text></g>
<g id="maximum_age" class="n"><rect class="ln" x="213" y="715.7" width="47" height="14"/><text x="236.5" y="725">maximum_age</text></g>
<g id="healthy_volunteers" class="n"><rect class="ln" x="207" y="736.7" width="60" height="14"/><text x="237" y="746">healthy_volunteers</text></g>
<g id="study_pop" class="n"><rect class="ln" x="219" y="758.3" width="36" height="14"/><text x="237" y="767.6">study_pop</text></g>
<g id="sampling_method" class="n"><rect class="ln" x="209" y="779" width="56" height="14"/><text x="237" y="788.3">sampling_method</text></g>
<g id="gender_based" class="n"><rect class="ln" x="214" y="800.3" width="46" height="14"/><text x="237" y="809.6">gender_based</text></g>
<g id="gender_description" class="n"><rect class="ln" x="207" y="821.7" width="60" height="14"/><text x="237" y="831">gender_description</text></g>
<g id="facility" class="n"><rect class="bg" x="224" y="843" width="26" height="14"/><text x="237" y="852.3">facility</text></g>
<g id="status" class="n"><rect class="bg" x="225" y="864.3" width="24" height="14"/><text x="237" y="873.6">status</text></g>
<g id="investigator" class="n"><rect class="bg" x="216" y="885.3" width="41" height="14"/><text x="236.5" y="894.6">investigator</text></g>
<g id="country_1" class="n"><rect class="ln" x="223" y="906.7" width="28" height="14"/><text x="237" y="916">country</text></g>
<g id="mesh_term_1" class="n"><rect class="tm" x="218" y="928" width="38" height="14"/><text x="237" y="937.3">mesh_term</text></g>
<g id="mesh_term_2" class="n"><rect class="gd" x="218" y="949" width="38" height="14"/><text x="237" y="958.3">mesh_term</text></g>
<g id="has_dmc" class="n"><rect class="pt" x="222" y="970" width="30" height="14"/><text x="237" y="979.3">has_dmc</text></g>
<g id="is_fda_regulated_drug" class="n"><rect class="pt" x="203" y="991.3" width="68" height="14"/><text x="237" y="1000.6">is_fda_regulated_drug</text></g>
<g id="is_fda_regulated_device" class="n"><rect class="pt" x="200" y="1012.7" width="74" height="14"/><text x="237" y="1022">is_fda_regulated_device</text></g>
<g id="is_us_export" class="n"><rect class="pt" x="216" y="1033.7" width="42" height="14"/><text x="237" y="1043">is_us_export</text></g>
<g id="is_unapproved_device" class="n"><rect class="pt" x="203" y="1055" width="68" height="14"/><text x="237" y="1064.3">is_unapproved_device</text></g>
<g id="is_ppsd" class="n"><rect class="pt" x="223" y="1076.3" width="28" height="14"/><text x="237" y="1085.6">is_ppsd</text></g>
<g id="measure_po" class="n"><rect class="hd" x="222" y="1097.3" width="30" height="14"/><text x="237" y="1106.6">measure</text></g>
<g id="time_frame_po" class="n"><rect class="hd" x="218" y="1118.7" width="38" height="14"/><text x="237" y="1128">time_frame</text></g>
<g id="description_po" class="n"><rect class="hd" x="218" y="1139.7" width="38" height="14"/><text x="237" y="1149">description</text></g>
<g id="measure_so" class="n"><rect class="bg" x="222" y="1161" width="30" height="14"/><text x="237" y="1170.3">measure</text></g>
<g id="time_frame_so" class="n"><rect class="bg" x="218" y="1182" width="38" height="14"/><text x="237" y="1191.3">time_frame</text></g>
<g id="description_so" class="n"><rect class="bg" x="218" y="1203.3" width="38" height="14"/><text x="237" y="1212.6">description</text></g>
<g id="arm_group_label_2" class="n"><rect class="ol" x="211" y="1224.7" width="53" height="14"/><text x="237.5" y="1234">arm_group_label</text></g>
<g id="description_ag" class="n"><rect class="ol" x="218" y="1246" width="38" height="14"/><text x="237" y="1255.3">description</text></g>
<g id="arm_group_type" class="n"><rect class="ol" x="211" y="1267" width="52" height="14"/><text x="237" y="1276.3">arm_group_type</text></g>
<g id="textblock_3" class="n"><rect class="ws" x="221" y="1288" width="32" height="14"/><text x="237" y="1297.3">textblock</text></g>
<g id="role_1" class="n"><rect class="cs" x="226" y="1309.3" width="22" height="14"/><text x="237" y="1318.6">role</text></g>
<g id="affiliation" class="n"><rect class="cs" x="220" y="1330.7" width="33" height="14"/><text x="236.5" y="1340">affiliation</text></g>
<g id="responsible_party_type" class="n"><rect class="fw" x="202" y="1352" width="71" height="14"/><text x="237.5" y="1361.3">responsible_party_type</text></g>
<g id="investigator_affiliation" class="n"><rect class="fw" x="202" y="1373" width="70" height="14"/><text x="237" y="1382.3">investigator_affiliation</text></g>
<g id="investigator_title" class="n"><rect class="fw" x="210" y="1394.3" width="54" height="14"/><text x="237" y="1403.6">investigator_title</text></g>
<g id="organization_1" class="n"><rect class="fw" x="216" y="1415.7" width="42" height="14"/><text x="237" y="1425">organization</text></g>
<g id="url" class="n"><rect class="sn" x="226" y="1437" width="22" height="14"/><text x="237" y="1446.3">url</text></g>
<g id="description_link" class="n"><rect class="sn" x="218" y="1458" width="38" height="14"/><text x="237" y="1467.3">description</text></g>
<g id="citation_1" class="n"><rect class="hd" x="223" y="1479" width="28" height="14"/><text x="237" y="1488.3">citation</text></g>
<g id="pmid_1" class="n"><rect class="hd" x="226" y="1500.7" width="22" height="14"/><text x="237" y="1510">PMID</text></g>
<g id="citation_2" class="n"><rect class="mc" x="223" y="1521.7" width="28" height="14"/><text x="237" y="1531">citation</text></g>
<g id="pmid_2" class="n"><rect class="mc" x="226" y="1543" width="22" height="14"/><text x="237" y="1552.3">PMID</text></g>
<g id="provided_document" class="n"><rect class="sk" x="206" y="1564" width="62" height="14"/><text x="237" y="1573.3">provided_document</text></g>
<g id="sharing_ipd" class="n"><rect class="ds" x="217" y="1585.3" width="40" height="14"/><text x="237" y="1594.6">sharing_ipd</text></g>
<g id="ipd_description" class="n"><rect class="ds" x="212" y="1606.7" width="50" height="14"/><text x="237" y="1616">ipd_description</text></g>
<g id="ipd_info_type" class="n"><rect class="ds" x="215" y="1627.7" width="44" height="14"/><text x="237" y="1637">ipd_info_type</text></g>
<g id="ipd_time_frame" class="n"><rect class="ds" x="212" y="1649" width="50" height="14"/><text x="237" y="1658.3">ipd_time_frame</text></g>
<g id="ipd_access_criteria" class="n"><rect class="ds" x="207" y="1670" width="60" height="14"/><text x="237" y="1679.3">ipd_access_criteria</text></g>
<g id="ipd_url" class="n"><rect class="ds" x="224" y="1691.7" width="26" height="14"/><text x="237" y="1701">ipd_url</text></g>
<g id="country_2" class="n"><rect class="pb" x="223" y="1712.7" width="28" height="14"/><text x="237" y="1722">country</text></g>
<g id="measure_oo" class="n"><rect class="lb" x="222" y="1733.7" width="30" height="14"/><text x="237" y="1743">measure</text></g>
<g id="time_frame_oo" class="n"><rect class="lb" x="218" y="1755" width="38" height="14"/><text x="237" y="1764.3">time_frame</text></g>
<g id="description_oo" class="n"><rect class="lb" x="218" y="1776.3" width="38" height="14"/><text x="237" y="1785.6">description</text></g>
<g id="submitted" class="n"><rect class="wh" x="219" y="1797.7" width="36" height="14"/><text x="237" y="1807">submitted</text></g>
<g id="returned" class="n"><rect class="wh" x="221" y="1818.7" width="32" height="14"/><text x="237" y="1828">returned</text></g>
<g id="submission_canceled" class="n"><rect class="wh" x="204" y="1840" width="66" height="14"/><text x="237" y="1849.3">submission_canceled</text></g>
<g id="study_doc" class="n"><rect class="lg" x="220" y="1861" width="35" height="14"/><text x="237.5" y="1870.3">study_doc</text></g>
<g id="expanded_access_type_intermediate" class="n"><rect class="lsb" x="183" y="1882" width="108" height="14"/><text x="237" y="1891.3">expanded_access_type_intermediate</text></g>
<g id="expanded_access_type_treatment" class="n"><rect class="lsb" x="187" y="1903.7" width="100" height="14"/><text x="237" y="1913">expanded_access_type_treatment</text></g>
<g id="expanded_access_type_individual" class="n"><rect class="lsb" x="188" y="1925" width="99" height="14"/><text x="237.5" y="1934.3">expanded_access_type_individual</text></g>

<g id="agency_1" class="n"><rect class="lb" x="329" y="121.7" width="26" height="14"/><text x="342" y="131">agency</text></g>
<g id="agency_class_1" class="n"><rect class="lb" x="320" y="142.7" width="43" height="14"/><text x="341.5" y="152">agency_class</text></g>
<g id="agency_2" class="n"><rect class="lb" x="329" y="164" width="26" height="14"/><text x="342" y="173.3">agency</text></g>
<g id="agency_class_2" class="n"><rect class="lb" x="320" y="185.3" width="43" height="14"/><text x="341.5" y="194.6">agency_class</text></g>
<g id="group_list_pf" class="n"><rect class="hd" x="324" y="206.7" width="35" height="14"/><text x="341.5" y="216">group_list</text></g>
<g id="period_list" class="n"><rect class="hd" x="323" y="259.7" width="37" height="14"/><text x="341.5" y="269">period_list</text></g>
<g id="recruitment_details" class="n"><rect class="hd" x="311" y="312.7" width="62" height="14"/><text x="342" y="322">recruitment_details</text></g>
<g id="pre_assignment_details" class="n"><rect class="hd" x="305" y="333.7" width="73" height="14"/><text x="341.5" y="343">pre_assignment_details</text></g>
<g id="population_bl" class="n"><rect class="hd" x="323" y="355" width="37" height="14"/><text x="341.5" y="364.3">population</text></g>
<g id="group_list_bl" class="n"><rect class="hd" x="324" y="376.3" width="35" height="14"/><text x="341.5" y="385.6">group_list</text></g>
<g id="analyzed_list_bl" class="n"><rect class="hd" x="321" y="397.7" width="42" height="14"/><text x="342" y="407">analyzed_list</text></g>
<g id="measure_list" class="n"><rect class="hd" x="321" y="418.7" width="42" height="14"/><text x="342" y="428">measure_list</text></g>
<g id="outcome" class="n"><rect class="hd" x="327" y="439.7" width="30" height="14"/><text x="342" y="449">outcome</text></g>
<g id="time_frame_re" class="n"><rect class="hd" x="323" y="461" width="39" height="14"/><text x="342.5" y="470.3">time_frame</text></g>
<g id="desc" class="n"><rect class="hd" x="332" y="481.7" width="22" height="14"/><text x="343" y="491">desc</text></g>
<g id="group_list_re" class="n"><rect class="hd" x="325" y="546.3" width="34" height="14"/><text x="342" y="555.6">group_list</text></g>
<g id="serious_events" class="n"><rect class="hd" x="318" y="588" width="48" height="14"/><text x="342" y="597.3">serious_events</text></g>
<g id="other_events" class="n"><rect class="hd" x="321" y="609.7" width="42" height="14"/><text x="342" y="619">other_events</text></g>
<g id="pi_employee" class="n"><rect class="hd" x="322" y="630.7" width="40" height="14"/><text x="342" y="640">pi_employee</text></g>
<g id="restrictive_agreement" class="n"><rect class="hd" x="307" y="652" width="70" height="14"/><text x="342" y="661.3">restrictive_agreement</text></g>
<g id="organization_2" class="n"><rect class="hd" x="321" y="673" width="42" height="14"/><text x="342" y="682.3">organization</text></g>
<g id="textblock_4" class="n"><rect class="ln" x="326" y="694.3" width="32" height="14"/><text x="342" y="703.6">textblock</text></g>
<g id="textblock_5" class="n"><rect class="ln" x="326" y="758.3" width="32" height="14"/><text x="342" y="767.6">textblock</text></g>
<g id="name" class="n"><rect class="bg" x="331" y="832.3" width="22" height="14"/><text x="342" y="841.6">name</text></g>
<g id="address" class="n"><rect class="bg" x="328" y="853.3" width="29" height="14"/><text x="342.5" y="862.6">address</text></g>
<g id="last_name" class="n"><rect class="bg" x="324" y="879.7" width="35" height="14"/><text x="341.5" y="889">last_name</text></g>
<g id="role_2" class="n"><rect class="bg" x="331" y="901" width="22" height="14"/><text x="342" y="910.3">role</text></g>
<g id="document_type" class="n"><rect class="sk" x="317" y="1511.3" width="50" height="14"/><text x="342" y="1520.6">document_type</text></g>
<g id="document_has_protocol" class="n"><rect class="sk" x="306" y="1532.3" width="73" height="14"/><text x="342.5" y="1541.6">document_has_protocol</text></g>
<g id="document_has_icf" class="n"><rect class="sk" x="314" y="1553.3" width="57" height="14"/><text x="342.5" y="1562.6">document_has_icf</text></g>
<g id="document_has_sap" class="n"><rect class="sk" x="312" y="1574.7" width="60" height="14"/><text x="342" y="1584">document_has_sap</text></g>
<g id="document_date" class="n"><rect class="sk" x="317" y="1596" width="50" height="14"/><text x="342" y="1605.3">document_date</text></g>
<g id="document_url" class="n"><rect class="sk" x="319" y="1617.3" width="46" height="14"/><text x="342" y="1626.6">document_url</text></g>
<g id="doc_id" class="n"><rect class="lg" x="330" y="1829" width="25" height="14"/><text x="342.5" y="1838.3">doc_id</text></g>
<g id="doc_type" class="n"><rect class="lg" x="326" y="1850.7" width="32" height="14"/><text x="342" y="1860">doc_type</text></g>
<g id="doc_url" class="n"><rect class="lg" x="329" y="1871.7" width="27" height="14"/><text x="342.5" y="1881">doc_url</text></g>
<g id="doc_comment" class="n"><rect class="lg" x="320" y="1893" width="45" height="14"/><text x="342.5" y="1902.3">doc_comment</text></g>

<g id="group_group_id_1" class="n"><rect class="hd" x="397" y="34.7" width="55" height="14"/><text x="424.5" y="44">group{group_id}</text></g>
<g id="group_1" class="n"><rect class="hd" x="413" y="55.7" width="23" height="14"/><text x="424.5" y="65">group</text></g>
<g id="period" class="n"><rect class="hd" x="412" y="95" width="25" height="14"/><text x="424.5" y="104.3">period</text></g>
<g id="group_group_id_2" class="n"><rect class="hd" x="397" y="127" width="55" height="14"/><text x="424.5" y="136.3">group{group_id}</text></g>
<g id="group_2" class="n"><rect class="hd" x="413" y="148.3" width="23" height="14"/><text x="424.5" y="157.6">group</text></g>
<g id="analyzed_1" class="n"><rect class="hd" x="409" y="185.3" width="31" height="14"/><text x="424.5" y="194.6">analyzed</text></g>
<g id="measure_1" class="n"><rect class="hd" x="409" y="302" width="30" height="14"/><text x="424" y="311.3">measure</text></g>
<g id="type" class="n"><rect class="hd" x="414" y="355.3" width="21" height="14"/><text x="424.5" y="364.6">type</text></g>
<g id="title_oc" class="n"><rect class="hd" x="414" y="376.3" width="21" height="14"/><text x="424.5" y="385.6">title</text></g>
<g id="description_oc" class="n"><rect class="hd" x="406" y="397.7" width="37" height="14"/><text x="424.5" y="407">description</text></g>
<g id="time_frame_oc" class="n"><rect class="hd" x="406" y="418.7" width="37" height="14"/><text x="424.5" y="428">time_frame</text></g>
<g id="population_oc" class="n"><rect class="hd" x="406" y="439.7" width="37" height="14"/><text x="424.5" y="449">population</text></g>
<g id="group_list_oc" class="n"><rect class="hd" x="408" y="461" width="33" height="14"/><text x="424.5" y="470.3">group_list</text></g>
<g id="measure_2" class="n"><rect class="hd" x="409" y="481.7" width="30" height="14"/><text x="424" y="491">measure</text></g>
<g id="analysis_list" class="n"><rect class="hd" x="404" y="503.7" width="41" height="14"/><text x="424.5" y="513">analysis_list</text></g>
<g id="posting_date" class="n"><rect class="hd" x="404" y="524.7" width="42" height="14"/><text x="425" y="534">posting_date</text></g>
<g id="group_group_id_3" class="n"><rect class="hd" x="397" y="546.3" width="55" height="14"/><text x="424.5" y="555.6">group{group_id}</text></g>
<g id="group_3" class="n"><rect class="hd" x="413" y="567.3" width="23" height="14"/><text x="424.5" y="576.6">group</text></g>
<g id="default_assessment_1" class="n"><rect class="hd" x="394" y="588.3" width="61" height="14"/><text x="424.5" y="597.6">default_assessment</text></g>
<g id="category_list_se" class="n"><rect class="hd" x="404" y="609.7" width="41" height="14"/><text x="424.5" y="619">category_list</text></g>
<g id="default_vocab_1" class="n"><rect class="hd" x="402" y="630.7" width="45" height="14"/><text x="424.5" y="640">default_vocab</text></g>
<g id="frequency_threshold" class="n"><rect class="hd" x="393" y="652" width="63" height="14"/><text x="424.5" y="661.3">frequency_threshold</text></g>
<g id="default_assessment_2" class="n"><rect class="hd" x="394" y="673" width="61" height="14"/><text x="424.5" y="682.3">default_assessment</text></g>
<g id="category_list_oe" class="n"><rect class="hd" x="404" y="694.3" width="41" height="14"/><text x="424.5" y="703.6">category_list</text></g>
<g id="default_vocab_2" class="n"><rect class="hd" x="402" y="715.7" width="45" height="14"/><text x="424.5" y="725">default_vocab</text></g>
<g id="city" class="n"><rect class="bg" x="414" y="822" width="21" height="14"/><text x="424.5" y="831.3">city</text></g>
<g id="state" class="n"><rect class="bg" x="414" y="843" width="21" height="14"/><text x="424.5" y="852.3">state</text></g>
<g id="country_3" class="n"><rect class="bg" x="410" y="864" width="28" height="14"/><text x="424" y="873.3">country</text></g>
<g id="zip" class="n"><rect class="bg" x="414" y="885.3" width="21" height="14"/><text x="424.5" y="894.6">zip</text></g>

<g id="title_r5_1" class="n"><rect class="hd" x="501" y="15.7" width="21" height="14"/><text x="511.5" y="25">title</text></g>
<g id="description_r5_1" class="n"><rect class="hd" x="493" y="36.7" width="37" height="14"/><text x="511.5" y="46">description</text></g>
<g id="title_r5_2" class="n"><rect class="hd" x="501" y="58" width="21" height="14"/><text x="511.5" y="67.3">title</text></g>
<g id="milestone_list" class="n"><rect class="hd" x="489" y="79" width="45" height="14"/><text x="511.5" y="88.3">milestone_list</text></g>
<g id="drop_withdraw_reason_list" class="n"><rect class="hd" x="471" y="100.3" width="81" height="14"/><text x="511.5" y="109.6">drop_withdraw_reason_list</text></g>
<g id="title_r5_3" class="n"><rect class="hd" x="501" y="121.7" width="21" height="14"/><text x="511.5" y="131">title</text></g>
<g id="description_r5_2" class="n"><rect class="hd" x="493" y="142.7" width="37" height="14"/><text x="511.5" y="152">description</text></g>
<g id="scope_r5" class="n"><rect class="hd" x="501" y="164" width="22" height="14"/><text x="512" y="173.3">scope</text></g>
<g id="count_list_r5" class="n"><rect class="hd" x="495" y="185.3" width="34" height="14"/><text x="512" y="194.6">count_list</text></g>
<g id="title_r5_4" class="n"><rect class="hd" x="501" y="206.7" width="21" height="14"/><text x="511.5" y="216">title</text></g>
<g id="units_r5_1" class="n"><rect class="hd" x="501" y="227.7" width="21" height="14"/><text x="511.5" y="237">units</text></g>
<g id="param_r5_1" class="n"><rect class="hd" x="499" y="249" width="25" height="14"/><text x="511.5" y="258.3">param</text></g>
<g id="dispersion_r5_1" class="n"><rect class="hd" x="494" y="270" width="35" height="14"/><text x="511.5" y="279.3">dispersion</text></g>
<g id="class_list_1" class="n"><rect class="hd" x="496" y="291.3" width="31" height="14"/><text x="511.5" y="300.6">class_list</text></g>
<g id="description_r5_3" class="n"><rect class="hd" x="493" y="312.7" width="37" height="14"/><text x="511.5" y="322">description</text></g>
<g id="population_r5_1" class="n"><rect class="hd" x="493" y="333.7" width="37" height="14"/><text x="511.5" y="343">population</text></g>
<g id="units_analyzed_1" class="n"><rect class="hd" x="487" y="355" width="48" height="14"/><text x="511" y="364.3">units_analyzed</text></g>
<g id="analyzed_list_r5_1" class="n"><rect class="hd" x="490" y="376.3" width="43" height="14"/><text x="511.5" y="385.6">analyzed_list</text></g>
<g id="group_group_id_4" class="n"><rect class="hd" x="484" y="397.7" width="55" height="14"/><text x="511.5" y="407">group{group_id}</text></g>
<g id="group_4" class="n"><rect class="hd" x="500" y="418.7" width="23" height="14"/><text x="511.5" y="428">group</text></g>
<g id="title_r5_5" class="n"><rect class="hd" x="501" y="439.7" width="21" height="14"/><text x="511.5" y="449">title</text></g>
<g id="description_r5_4" class="n"><rect class="hd" x="493" y="461" width="37" height="14"/><text x="511.5" y="470.3">description</text></g>
<g id="population_r5_2" class="n"><rect class="hd" x="493" y="481.7" width="37" height="14"/><text x="511.5" y="491">population</text></g>
<g id="units_r5_2" class="n"><rect class="hd" x="501" y="503.7" width="21" height="14"/><text x="511.5" y="513">units</text></g>
<g id="param_r5_2" class="n"><rect class="hd" x="499" y="524.7" width="25" height="14"/><text x="511.5" y="534">param</text></g>
<g id="analyzed_list_r5_2" class="n"><rect class="hd" x="490" y="546.3" width="43" height="14"/><text x="511.5" y="555.6">analyzed_list</text></g>
<g id="class_list_2" class="n"><rect class="hd" x="496" y="567.3" width="31" height="14"/><text x="511.5" y="576.6">class_list</text></g>
<g id="dispersion_r5_2" class="n"><rect class="hd" x="494" y="588.3" width="35" height="14"/><text x="511.5" y="597.6">dispersion</text></g>
<g id="units_analyzed_2" class="n"><rect class="hd" x="487" y="609.7" width="48" height="14"/><text x="511" y="619">units_analyzed</text></g>
<g id="analysis" class="n"><rect class="hd" x="497" y="641" width="29" height="14"/><text x="511.5" y="650.3">analysis</text></g>
<g id="title_r5_6" class="n"><rect class="hd" x="501" y="662.3" width="21" height="14"/><text x="511.5" y="671.6">title</text></g>
<g id="description_r5_5" class="n"><rect class="hd" x="493" y="683.7" width="37" height="14"/><text x="511.5" y="693">description</text></g>
<g id="category_se" class="n"><rect class="hd" x="496" y="885.3" width="31" height="14"/><text x="511.5" y="894.6">category</text></g>
<g id="category_oe" class="n"><rect class="hd" x="496" y="941.3" width="31" height="14"/><text x="511.5" y="950.6">category</text></g>

<g id="milestone" class="n"><rect class="hd" x="592" y="79" width="34" height="14"/><text x="609" y="88.3">milestone</text></g>
<g id="drop_withdraw_reason" class="n"><rect class="hd" x="574" y="100.3" width="70" height="14"/><text x="609" y="109.6">drop_withdraw_reason</text></g>
<g id="count_group_id_r6" class="n"><rect class="hd" x="582" y="174.7" width="54" height="14"/><text x="609" y="184">count{group_id}</text></g>
<g id="count_value_r6" class="n"><rect class="hd" x="586" y="195.7" width="45" height="14"/><text x="608.5" y="205">count{value}</text></g>
<g id="class_1" class="n"><rect class="hd" x="598" y="291.3" width="21" height="14"/><text x="608.5" y="300.6">class</text></g>
<g id="analyzed_r6_1" class="n"><rect class="hd" x="593" y="365.7" width="31" height="14"/><text x="608.5" y="375">analyzed</text></g>
<g id="title_r6_1" class="n"><rect class="hd" x="598" y="397.7" width="21" height="14"/><text x="608.5" y="407">title</text></g>
<g id="description_r6_1" class="n"><rect class="hd" x="590" y="418.7" width="38" height="14"/><text x="609" y="428">description</text></g>
<g id="analyzed_r6_2" class="n"><rect class="hd" x="593" y="439.7" width="31" height="14"/><text x="608.5" y="449">analyzed</text></g>
<g id="class_2" class="n"><rect class="hd" x="598" y="461" width="21" height="14"/><text x="608.5" y="470.3">class</text></g>
<g id="group_id_list" class="n"><rect class="hd" x="588" y="482" width="42" height="14"/><text x="609" y="491.3">group_id_list</text></g>
<g id="groups_desc" class="n"><rect class="hd" x="589" y="503.7" width="40" height="14"/><text x="609" y="513">groups_desc</text></g>
<g id="non_inferiority_type" class="n"><rect class="hd" x="577" y="524.7" width="63" height="14"/><text x="608.5" y="534">non_inferiority_type</text></g>
<g id="p_value" class="n"><rect class="hd" x="594" y="546.3" width="29" height="14"/><text x="608.5" y="555.6">p_value</text></g>
<g id="p_value_desc" class="n"><rect class="hd" x="587" y="567.3" width="43" height="14"/><text x="608.5" y="576.6">p_value_desc</text></g>
<g id="method" class="n"><rect class="hd" x="595" y="588.3" width="28" height="14"/><text x="609" y="597.6">method</text></g>
<g id="param_type" class="n"><rect class="hd" x="589" y="609.7" width="39" height="14"/><text x="608.5" y="619">param_type</text></g>
<g id="param_value" class="n"><rect class="hd" x="588" y="630.7" width="41" height="14"/><text x="608.5" y="640">param_value</text></g>
<g id="ci_percent" class="n"><rect class="hd" x="591" y="652" width="35" height="14"/><text x="608.5" y="661.3">ci_percent</text></g>
<g id="ci_n_sides" class="n"><rect class="hd" x="592" y="673" width="34" height="14"/><text x="609" y="682.3">ci_n_sides</text></g>
<g id="ci_lower_limit" class="n"><rect class="hd" x="586" y="694.3" width="45" height="14"/><text x="608.5" y="703.6">ci_lower_limit</text></g>
<g id="ci_upper_limit" class="n"><rect class="hd" x="586" y="715.7" width="46" height="14"/><text x="609" y="725">ci_upper_limit</text></g>
<g id="method_desc" class="n"><rect class="hd" x="587" y="736.7" width="43" height="14"/><text x="608.5" y="746">method_desc</text></g>
<g id="estimate_desc" class="n"><rect class="hd" x="586" y="758.3" width="46" height="14"/><text x="609" y="767.6">estimate_desc</text></g>
<g id="non_inferiority_desc" class="n"><rect class="hd" x="577" y="779" width="63" height="14"/><text x="608.5" y="788.3">non_inferiority_desc</text></g>
<g id="other_analysis_desc" class="n"><rect class="hd" x="578" y="800.3" width="61" height="14"/><text x="608.5" y="809.6">other_analysis_desc</text></g>
<g id="dispersion_type" class="n"><rect class="hd" x="583" y="821.7" width="51" height="14"/><text x="608.5" y="831">dispersion_type</text></g>
<g id="dispersion_value" class="n"><rect class="hd" x="582" y="843" width="53" height="14"/><text x="608.5" y="852.3">dispersion_value</text></g>
<g id="ci_upper_limit_na_comment" class="n"><rect class="hd" x="567" y="864" width="84" height="14"/><text x="609" y="873.3">ci_upper_limit_na_comment</text></g>
<g id="title_r6_2" class="n"><rect class="hd" x="598" y="885.3" width="21" height="14"/><text x="608.5" y="894.6">title</text></g>
<g id="event_list_se" class="n"><rect class="hd" x="592" y="906.7" width="34" height="14"/><text x="609" y="916">event_list</text></g>
<g id="title_r6_3" class="n"><rect class="hd" x="598" y="941.3" width="21" height="14"/><text x="608.5" y="950.6">title</text></g>
<g id="event_list_oe" class="n"><rect class="hd" x="592" y="988.3" width="34" height="14"/><text x="609" y="997.6">event_list</text></g>

<g id="title_r7_1" class="n"><rect class="hd" x="680" y="58" width="22" height="14"/><text x="691" y="67.3">title</text></g>
<g id="participants_list_1" class="n"><rect class="hd" x="665" y="79" width="52" height="14"/><text x="691" y="88.3">participants_list</text></g>
<g id="title_r7_2" class="n"><rect class="hd" x="680" y="100.3" width="22" height="14"/><text x="691" y="109.6">title</text></g>
<g id="participants_list_2" class="n"><rect class="hd" x="665" y="121.7" width="52" height="14"/><text x="691" y="131">participants_list</text></g>
<g id="category_list_r7_1" class="n"><rect class="hd" x="669" y="270" width="43" height="14"/><text x="690.5" y="279.3">category_list</text></g>
<g id="title_r7_3" class="n"><rect class="hd" x="680" y="291.3" width="22" height="14"/><text x="691" y="300.6">title</text></g>
<g id="analyzed_list_r7_1" class="n"><rect class="hd" x="669" y="312.7" width="43" height="14"/><text x="690.5" y="322">analyzed_list</text></g>
<g id="units_r7_1" class="n"><rect class="hd" x="680" y="333.7" width="22" height="14"/><text x="691" y="343">units</text></g>
<g id="scope_r7_1" class="n"><rect class="hd" x="680" y="355.3" width="22" height="14"/><text x="691" y="364.6">scope</text></g>
<g id="count_list_r7_1" class="n"><rect class="hd" x="674" y="376.3" width="34" height="14"/><text x="691" y="385.6">count_list</text></g>
<g id="units_r7_2" class="n"><rect class="hd" x="680" y="397.7" width="22" height="14"/><text x="691" y="407">units</text></g>
<g id="scope_r7_2" class="n"><rect class="hd" x="680" y="418.7" width="22" height="14"/><text x="691" y="428">scope</text></g>
<g id="count_list_r7_2" class="n"><rect class="hd" x="674" y="439.7" width="34" height="14"/><text x="691" y="449">count_list</text></g>
<g id="title_r7_4" class="n"><rect class="hd" x="680" y="461" width="22" height="14"/><text x="691" y="470.3">title</text></g>
<g id="category_list_r7_2" class="n"><rect class="hd" x="669" y="481.7" width="43" height="14"/><text x="690.5" y="491">category_list</text></g>
<g id="analyzed_list_r7_2" class="n"><rect class="hd" x="669" y="503.7" width="43" height="14"/><text x="690.5" y="513">analyzed_list</text></g>
<g id="group_id" class="n"><rect class="hd" x="675" y="524.7" width="31" height="14"/><text x="690.5" y="534">group_id</text></g>
<g id="event_1" class="n"><rect class="hd" x="680" y="893.3" width="22" height="14"/><text x="691" y="902.6">event</text></g>
<g id="event_2" class="n"><rect class="hd" x="680" y="1042" width="22" height="14"/><text x="691" y="1051.3">event</text></g>

<g id="participants_group_id_1" class="n"><rect class="hd" x="735" y="58" width="72" height="14"/><text x="771" y="67.3">participants{group_id}</text></g>
<g id="participants_count_1" class="n"><rect class="hd" x="739" y="79" width="64" height="14"/><text x="771" y="88.3">participants{count}</text></g>
<g id="participants" class="n"><rect class="hd" x="751" y="100.3" width="40" height="14"/><text x="771" y="109.6">participants</text></g>
<g id="participants_group_id_2" class="n"><rect class="hd" x="735" y="121.7" width="72" height="14"/><text x="771" y="131">participants{group_id}</text></g>
<g id="participants_count_2" class="n"><rect class="hd" x="739" y="142.7" width="64" height="14"/><text x="771" y="152">participants{count}</text></g>
<g id="category_r8_1" class="n"><rect class="hd" x="756" y="270" width="31" height="14"/><text x="771.5" y="279.3">category</text></g>
<g id="analyzed_r8_1" class="n"><rect class="hd" x="755" y="312.7" width="32" height="14"/><text x="771" y="322">analyzed</text></g>
<g id="count_group_id_r8_1" class="n"><rect class="hd" x="744" y="365.7" width="54" height="14"/><text x="771" y="375">count{group_id}</text></g>
<g id="count_value_r8_1" class="n"><rect class="hd" x="749" y="386.7" width="45" height="14"/><text x="771.5" y="396">count{value}</text></g>
<g id="count_group_id_r8_2" class="n"><rect class="hd" x="744" y="429.3" width="54" height="14"/><text x="771" y="438.6">count{group_id}</text></g>
<g id="count_value_r8_2" class="n"><rect class="hd" x="749" y="450.3" width="45" height="14"/><text x="771.5" y="459.6">count{value}</text></g>
<g id="category_r8_2" class="n"><rect class="hd" x="756" y="476.7" width="31" height="14"/><text x="771.5" y="486">category</text></g>
<g id="analyzed_r8_2" class="n"><rect class="hd" x="755" y="508.7" width="32" height="14"/><text x="771" y="518">analyzed</text></g>
<g id="sub_title_1" class="n"><rect class="hd" x="756" y="808" width="31" height="14"/><text x="771.5" y="817.3">sub_title</text></g>
<g id="counts_group_id_1" class="n"><rect class="hd" x="743" y="829.7" width="56" height="14"/><text x="771" y="839">counts{group_id}</text></g>
<g id="counts_subjects_affected_1" class="n"><rect class="hd" x="731" y="850.7" width="81" height="14"/><text x="771.5" y="860">counts{subjects_affected}</text></g>
<g id="counts_subjects_at_risk_1" class="n"><rect class="hd" x="733" y="872" width="77" height="14"/><text x="771.5" y="881.3">counts{subjects_at_risk}</text></g>
<g id="description_r8_1" class="n"><rect class="hd" x="752" y="893.3" width="38" height="14"/><text x="771" y="902.6">description</text></g>
<g id="counts_events_1" class="n"><rect class="hd" x="746" y="914.7" width="51" height="14"/><text x="771.5" y="924">counts{events}</text></g>
<g id="sub_title_vocab_1" class="n"><rect class="hd" x="745" y="935.7" width="53" height="14"/><text x="771.5" y="945">sub_title{vocab}</text></g>
<g id="assessment_1" class="n"><rect class="hd" x="752" y="956.7" width="39" height="14"/><text x="771.5" y="966">assessment</text></g>
<g id="sub_title_2" class="n"><rect class="hd" x="756" y="978" width="31" height="14"/><text x="771.5" y="987.3">sub_title</text></g>
<g id="counts_group_id_2" class="n"><rect class="hd" x="743" y="999" width="56" height="14"/><text x="771" y="1008.3">counts{group_id}</text></g>
<g id="counts_subjects_affected_2" class="n"><rect class="hd" x="731" y="1020.3" width="81" height="14"/><text x="771.5" y="1029.6">counts{subjects_affected}</text></g>
<g id="counts_subjects_at_risk_2" class="n"><rect class="hd" x="733" y="1041.7" width="77" height="14"/><text x="771.5" y="1051">counts{subjects_at_risk}</text></g>
<g id="description_r8_2" class="n"><rect class="hd" x="752" y="1063" width="38" height="14"/><text x="771" y="1072.3">description</text></g>
<g id="counts_events_2" class="n"><rect class="hd" x="746" y="1084" width="51" height="14"/><text x="771.5" y="1093.3">counts{events}</text></g>
<g id="assessment_2" class="n"><rect class="hd" x="752" y="1105.3" width="39" height="14"/><text x="771.5" y="1114.6">assessment</text></g>
<g id="sub_title_vocab_2" class="n"><rect class="hd" x="745" y="1126.7" width="53" height="14"/><text x="771.5" y="1136">sub_title{vocab}</text></g>

<g id="measurement_list_1" class="n"><rect class="hd" x="826" y="249" width="56" height="14"/><text x="854" y="258.3">measurement_list</text></g>
<g id="title_r9_1" class="n"><rect class="hd" x="843" y="270" width="21" height="14"/><text x="853.5" y="279.3">title</text></g>
<g id="units_r9_1" class="n"><rect class="hd" x="843" y="291.3" width="21" height="14"/><text x="853.5" y="300.6">units</text></g>
<g id="scope_r9_1" class="n"><rect class="hd" x="843" y="312.7" width="22" height="14"/><text x="854" y="322">scope</text></g>
<g id="count_list_r9_1" class="n"><rect class="hd" x="837" y="333.7" width="34" height="14"/><text x="854" y="343">count_list</text></g>
<g id="measurement_list_2" class="n"><rect class="hd" x="826" y="455.7" width="56" height="14"/><text x="854" y="465">measurement_list</text></g>
<g id="title_r9_2" class="n"><rect class="hd" x="843" y="476.7" width="21" height="14"/><text x="853.5" y="486">title</text></g>
<g id="units_r9_2" class="n"><rect class="hd" x="843" y="498" width="21" height="14"/><text x="853.5" y="507.3">units</text></g>
<g id="scope_r9_2" class="n"><rect class="hd" x="843" y="519" width="22" height="14"/><text x="854" y="528.3">scope</text></g>
<g id="count_list_r9_2" class="n"><rect class="hd" x="837" y="540.7" width="34" height="14"/><text x="854" y="550">count_list</text></g>

<g id="measurement_group_id_1" class="n"><rect class="hd" x="900" y="190" width="77" height="14"/><text x="938.5" y="199.3">measurement{group_id}</text></g>
<g id="measurement_value_1" class="n"><rect class="hd" x="905" y="211.3" width="67" height="14"/><text x="938.5" y="220.6">measurement{value}</text></g>
<g id="measurement_spread_1" class="n"><rect class="hd" x="903" y="232.7" width="71" height="14"/><text x="938.5" y="242">measurement{spread}</text></g>
<g id="measurement_lower_limit_1" class="n"><rect class="hd" x="897" y="254" width="84" height="14"/><text x="939" y="263.3">measurement{lower_limit}</text></g>
<g id="measurement_upper_limit_1" class="n"><rect class="hd" x="896" y="275" width="85" height="14"/><text x="938.5" y="284.3">measurement{upper_limit}</text></g>
<g id="measurement_1" class="n"><rect class="hd" x="916" y="296.3" width="45" height="14"/><text x="938.5" y="305.6">measurement</text></g>
<g id="count_group_id_r10_1" class="n"><rect class="hd" x="912" y="328" width="53" height="14"/><text x="938.5" y="337.3">count{group_id}</text></g>
<g id="count_value_r10_1" class="n"><rect class="hd" x="916" y="349.3" width="45" height="14"/><text x="938.5" y="358.6">count{value}</text></g>
<g id="measurement_group_id_2" class="n"><rect class="hd" x="900" y="397.3" width="77" height="14"/><text x="938.5" y="406.6">measurement{group_id}</text></g>
<g id="measurement_value_2" class="n"><rect class="hd" x="905" y="418.7" width="67" height="14"/><text x="938.5" y="428">measurement{value}</text></g>
<g id="measurement_spread_2" class="n"><rect class="hd" x="903" y="439.7" width="71" height="14"/><text x="938.5" y="449">measurement{spread}</text></g>
<g id="measurement_lower_limit_2" class="n"><rect class="hd" x="897" y="461" width="84" height="14"/><text x="939" y="470.3">measurement{lower_limit}</text></g>
<g id="measurement_upper_limit_2" class="n"><rect class="hd" x="896" y="481.7" width="85" height="14"/><text x="938.5" y="491">measurement{upper_limit}</text></g>
<g id="measurement_2" class="n"><rect class="hd" x="916" y="503.7" width="45" height="14"/><text x="938.5" y="513">measurement</text></g>
<g id="count_group_id_r10_2" class="n"><rect class="hd" x="912" y="529.7" width="53" height="14"/><text x="938.5" y="539">count{group_id}</text></g>
<g id="count_value_r10_2" class="n"><rect class="hd" x="916" y="551" width="45" height="14"/><text x="938.5" y="560.3">count{value}</text></g>
</g>
</svg>
